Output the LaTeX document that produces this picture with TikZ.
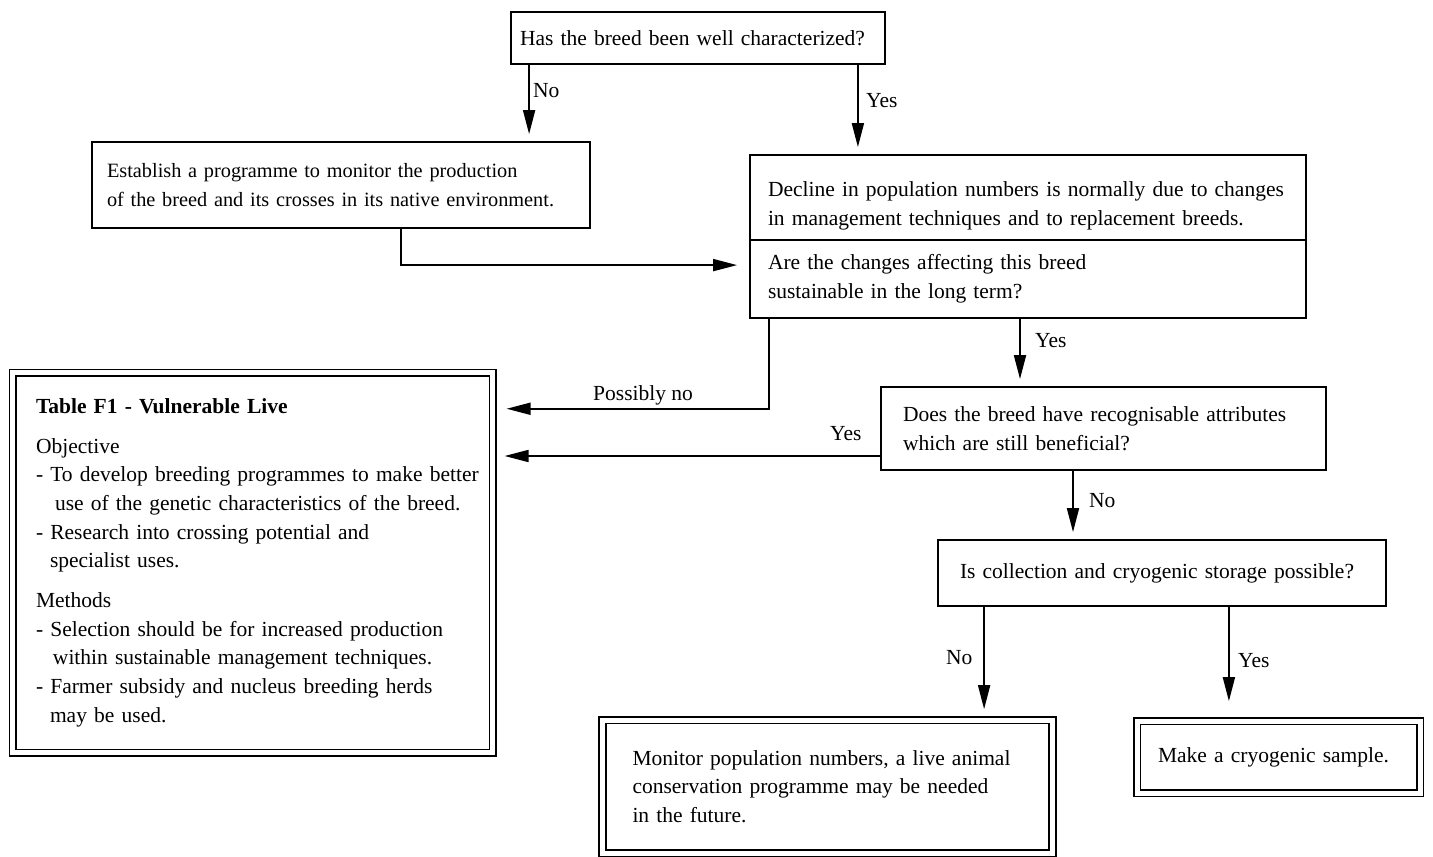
\documentclass[tikz,border=0pt]{standalone}
\usepackage{fontspec}
\setmainfont{Liberation Serif}
\usetikzlibrary{arrows.meta}
\begin{document}
\begin{tikzpicture}[x=1pt,y=-1pt,
  every node/.style={font=\fontsize{21.5}{28.7}\selectfont},
  box/.style={draw,line width=1.8pt,rectangle,align=left,inner ysep=0pt,anchor=center},
  dbox/.style={box,double,double distance=5pt,line width=1.7pt},
  arr/.style={line width=1.8pt,-{Triangle[length=24pt,width=12pt]}},
  lab/.style={inner sep=0pt,anchor=west}]
\useasboundingbox[fill=white] (0,0) rectangle (1433,857);

% boxes
\node[box,minimum width=374,minimum height=52,text width=356,inner xsep=9] (q1) at (698,38)
  {Has the breed been well characterized?};
\node[box,minimum width=498,minimum height=86,text width=468,inner xsep=15,
  font=\fontsize{20.3}{28.7}\selectfont] (est) at (341,185)
  {Establish a programme to monitor the production\\of the breed and its crosses in its native environment.};
\node[box,minimum width=556,minimum height=85,text width=520,inner xsep=18] (dec) at (1028,197.5)
  {\rule{0pt}{31pt}Decline in population numbers is normally due to changes\\in management techniques and to replacement breeds.};
\node[box,minimum width=556,minimum height=78,text width=520,inner xsep=18] (sus) at (1028,279)
  {Are the changes affecting this breed\\sustainable in the long term?};
\node[box,minimum width=445,minimum height=83,text width=401,inner xsep=22] (att) at (1103.5,428.5)
  {Does the breed have recognisable attributes\\which are still beneficial?};
\node[box,minimum width=448,minimum height=66,text width=404,inner xsep=22] (cry) at (1162,573)
  {Is collection and cryogenic storage possible?};
\node[dbox,minimum width=480,minimum height=380,text width=433.5,inner xsep=23.25] (tab) at (252.75,562.75)
  {\textbf{Table F1 - Vulnerable Live}\\[11pt]
   Objective\\
   \mbox{- To develop breeding programmes to make better}\\
   \hspace*{19pt}use of the genetic characteristics of the breed.\\
   - Research into crossing potential and\\
   \hspace*{14pt}specialist uses.\\[11pt]
   Methods\\
   - Selection should be for increased production\\
   \hspace*{17pt}within sustainable management techniques.\\
   - Farmer subsidy and nucleus breeding herds\\
   \hspace*{14pt}may be used.};
\node[dbox,minimum width=450,minimum height=133,text width=390,inner xsep=30] (mon) at (827.5,786.5)
  {Monitor population numbers, a live animal\\conservation programme may be needed\\in the future.};
\node[dbox,minimum width=283,minimum height=72,text width=241,inner xsep=21] (mk) at (1278.5,757)
  {Make a cryogenic sample.};

% anchor points on box edges
\coordinate (qNo) at ([xshift=19pt]q1.south west);
\coordinate (qYes) at ([xshift=-28pt]q1.south east);
\coordinate (estB) at ([xshift=310pt]est.south west);
\coordinate (susL) at ([xshift=20pt]sus.south west);
\coordinate (susR) at ([xshift=-8pt]sus.south);
\coordinate (attL) at ([yshift=-27.5pt]att.west);
\coordinate (attB) at ([xshift=-30.5pt]att.south);
\coordinate (cryL) at ([xshift=47pt]cry.south west);
\coordinate (cryR) at ([xshift=-158pt]cry.south east);

% connectors
\draw[arr,shorten >=7pt] (qNo) -- (qNo |- est.north);
\draw[arr,shorten >=7pt] (qYes) -- (qYes |- dec.north);
\draw[arr,shorten >=12pt] (estB) |- ([yshift=-26pt]sus.north west);
\draw[arr,shorten >=13pt] (susL) |- ([yshift=154pt]tab.east);
\draw[arr,shorten >=11pt] (attL) -- (attL -| tab.east);
\draw[arr,shorten >=7pt] (susR) -- (susR |- att.north);
\draw[arr,shorten >=7pt] (attB) -- (attB |- cry.north);
\draw[arr,shorten >=10pt] (cryL) -- (cryL |- mon.north);
\draw[arr,shorten >=19pt] (cryR) -- (cryR |- mk.north);

% labels
\node[lab] (l1) at (533,91) {No};
\node[lab] (l2) at (866,101) {Yes};
\node[lab] (l3) at (593,395) {Possibly no};
\node[lab] (l4) at (1035,341) {Yes};
\node[lab] (l5) at (830,434) {Yes};
\node[lab] (l6) at (1089,501) {No};
\node[lab] (l7) at (946,658) {No};
\node[lab] (l8) at (1238,661) {Yes};
\end{tikzpicture}
\end{document}
